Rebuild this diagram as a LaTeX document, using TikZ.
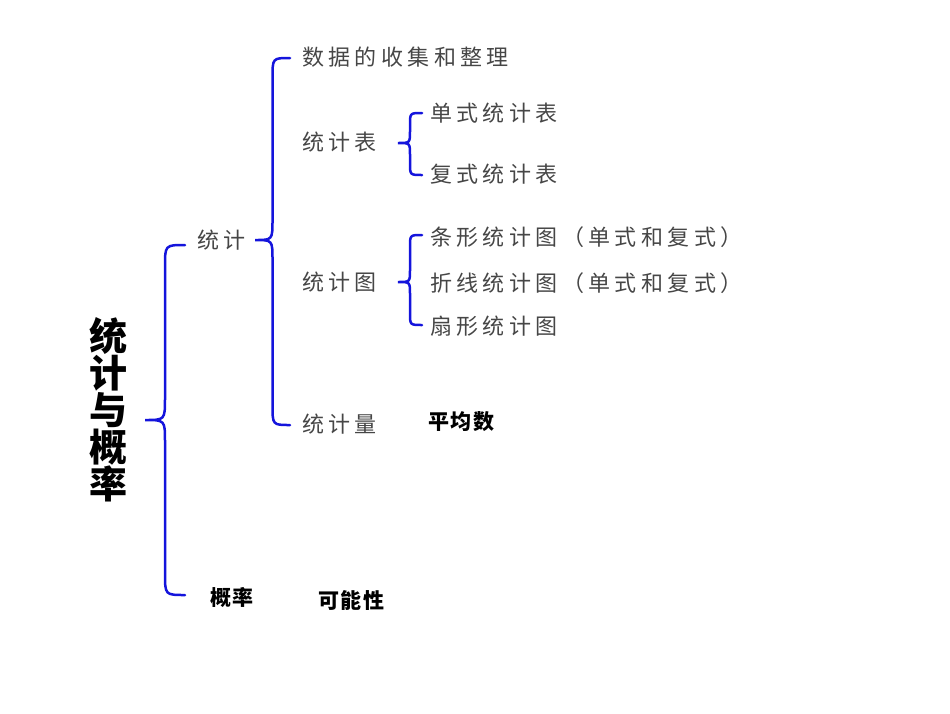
\documentclass[tikz,border=0pt]{standalone}
\usepackage{fontspec}
\newfontfamily\cjk{Noto Sans CJK SC}
\newfontfamily\cjksp[LetterSpace=20]{Noto Sans CJK SC}
\newfontfamily\cjkb[LetterSpace=8]{Noto Sans CJK SC}
\definecolor{bblue}{RGB}{20,20,220}
\definecolor{tgray}{RGB}{70,70,70}
\tikzset{
  br/.style={draw=bblue,line width=2.5pt,line cap=round},
  lbl/.style={anchor=west,inner sep=0pt,text=tgray,font=\cjksp\fontsize{22}{24}\selectfont},
  blbl/.style={anchor=west,inner sep=0pt,text=black,font=\cjkb\bfseries\fontsize{21}{24}\selectfont}
}
\newcommand{\mybrace}[6]{%
  \pgfmathsetmacro{\xm}{(#1+#2)/2}%
  \draw[br] (#1,#3) .. controls (\xm,#3) .. (\xm,#3+#6) -- (\xm,#4-#6)
    .. controls (\xm,#4) .. (#2,#4) .. controls (\xm,#4) .. (\xm,#4+#6)
    -- (\xm,#5-#6) .. controls (\xm,#5) .. (#1,#5);}
\begin{document}
\begin{tikzpicture}[x=1pt,y=-1pt]
\useasboundingbox (0,0) rectangle (950,713);
\node[align=center,inner sep=0pt,font=\cjk\bfseries\fontsize{38}{38}\selectfont] (title) at (108,410) {统\\[-1pt]计\\[-1pt]与\\[-1pt]概\\[-1pt]率};
\mybrace{185}{145}{245}{420}{595}{22}
\mybrace{290}{255}{58}{240}{425}{20}
\mybrace{422}{398}{113}{143}{175}{12}
\mybrace{422}{398}{235}{282}{325}{12}
\node[lbl] (tj) at (197,240) {统计};
\node[blbl] (gl) at (210,597) {概率};
\node[blbl] (knx) at (318,600) {可能性};
\node[lbl] (sj) at (302,57) {数据的收集和整理};
\node[lbl] (tjb) at (302,142) {统计表};
\node[lbl] (ds) at (430,113) {单式统计表};
\node[lbl] (fs) at (430,174) {复式统计表};
\node[lbl] (tjt) at (302,282) {统计图};
\node[lbl] (tx) at (430,237) {条形统计图（单式和复式）};
\node[lbl] (zx) at (430,283) {折线统计图（单式和复式）};
\node[lbl] (sx) at (430,326) {扇形统计图};
\node[lbl] (tjl) at (302,424) {统计量};
\node[blbl] (pjs) at (428,422) {平均数};
\end{tikzpicture}
\end{document}
